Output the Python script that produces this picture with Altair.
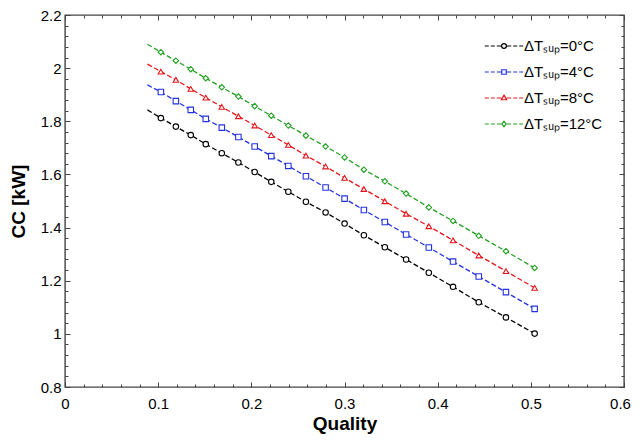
import altair as alt
import pandas as pd

# ---- data ----
quality = [0.0885, 0.1029, 0.1190, 0.1350, 0.1511, 0.1683, 0.1861, 0.2036, 0.2214, 0.2397,
           0.2586, 0.2797, 0.3001, 0.3208, 0.3433, 0.3661, 0.3905, 0.4165, 0.4441, 0.4733, 0.5041]
has_marker = [False] + [True] * 20

cc_sup0 = [1.843, 1.812, 1.780, 1.748, 1.714, 1.680, 1.645, 1.609, 1.572, 1.535, 1.497,
           1.457, 1.415, 1.371, 1.326, 1.280, 1.230, 1.177, 1.119, 1.062, 1.001]
cc_sup4 = [1.937, 1.910, 1.876, 1.843, 1.809, 1.776, 1.741, 1.705, 1.669, 1.632, 1.593,
           1.551, 1.509, 1.466, 1.421, 1.374, 1.325, 1.272, 1.216, 1.157, 1.094]
cc_sup8 = [2.015, 1.987, 1.956, 1.922, 1.889, 1.854, 1.819, 1.784, 1.748, 1.711, 1.671,
           1.630, 1.587, 1.545, 1.499, 1.452, 1.405, 1.352, 1.295, 1.236, 1.173]
cc_sup12 = [2.090, 2.060, 2.028, 1.996, 1.962, 1.928, 1.893, 1.857, 1.821, 1.784, 1.746,
            1.705, 1.664, 1.618, 1.574, 1.528, 1.476, 1.425, 1.369, 1.311, 1.248]

series_labels = ["ΔTₛᵤₚ=0°C", "ΔTₛᵤₚ=4°C", "ΔTₛᵤₚ=8°C", "ΔTₛᵤₚ=12°C"]
series_values = [cc_sup0, cc_sup4, cc_sup8, cc_sup12]

x_major = [0, 0.1, 0.2, 0.3, 0.4, 0.5, 0.6]
y_major = [0.8, 1.0, 1.2, 1.4, 1.6, 1.8, 2.0, 2.2]

# ---- styles ----
colors = ["#000000", "#2233dd", "#e4161b", "#22a022"]
marker_shapes = ["circle", "square", "triangle-up", "diamond"]
dashes = "M-2.4,0L-1.9,0M-1.65,0L-1.15,0M-0.9,0L-0.32,0M0.32,0L0.9,0M1.15,0L1.65,0M1.9,0L2.4,0"
legend_paths = [
    dashes + "M0.3,0A0.3,0.3 0 1,1 -0.3,0A0.3,0.3 0 1,1 0.3,0Z",
    dashes + "M-0.28,-0.28L0.28,-0.28L0.28,0.28L-0.28,0.28Z",
    dashes + "M0,-0.36L0.33,0.22L-0.33,0.22Z",
    dashes + "M0,-0.34L0.26,0L0,0.34L-0.26,0Z",
]

x_minor = [round(i * 0.02, 2) for i in range(31) if i % 5]
y_minor = [round(0.8 + i * 0.04, 2) for i in range(36) if i % 5]

rows = []
for name, vals in zip(series_labels, series_values):
    for q, v, m in zip(quality, vals, has_marker):
        rows.append({"Quality": q, "CC": v, "series": name, "marker": m})
df = pd.DataFrame(rows)

xs = alt.Scale(domain=[0, 0.6], nice=False, zero=False)
ys = alt.Scale(domain=[0.8, 2.2], nice=False, zero=False)
cs = alt.Scale(domain=series_labels, range=colors)


def axis(orient, values, size, labels, title=None, pad=0, tpad=0, **extra):
    # inward ticks: pull the axis into the plot by its tick length
    kw = dict(orient=orient, values=values, tickSize=size, offset=-size,
              labels=labels, domain=False, grid=False, title=title,
              tickColor="#444", tickWidth=1)
    if labels:
        kw.update(format="~g", labelPadding=pad, titlePadding=tpad, labelFlush=False)
    kw.update(extra)
    return alt.Axis(**kw)


leg = alt.Legend(title=None, orient="none", legendX=430, legendY=22, symbolSize=256,
                 symbolStrokeWidth=1.2, symbolOpacity=1, labelFont="Liberation Sans",
                 labelFontSize=15, labelOffset=11, rowPadding=9, labelColor="black",
                 padding=0)

base = alt.Chart(df)

line = base.mark_line(strokeDash=[5, 2.5], strokeWidth=1.3).encode(
    x=alt.X("Quality:Q", scale=xs,
            axis=axis("bottom", x_major, 5, True, "Quality", 9, 3,
                      labelOffset={"condition": {"test": "datum.value > 0.59", "value": -4},
                                   "value": 0})),
    y=alt.Y("CC:Q", scale=ys, axis=axis("left", y_major, 5, True, "CC [kW]", 4, 12)),
    color=alt.Color("series:N", scale=cs, legend=None),
)

points = base.transform_filter("datum.marker").mark_point(
    filled=False, fill="white", size=30, strokeWidth=1.1, opacity=1
).encode(
    x=alt.X("Quality:Q", scale=xs, axis=axis("bottom", x_minor, 3, False)),
    y=alt.Y("CC:Q", scale=ys, axis=axis("left", y_minor, 3, False)),
    color=alt.Color("series:N", scale=cs, legend=None),
    shape=alt.Shape("series:N", scale=alt.Scale(domain=series_labels, range=marker_shapes), legend=None),
)

legend_layer = base.transform_filter("datum.marker").mark_point(
    filled=False, size=30, opacity=0
).encode(
    x=alt.X("Quality:Q", scale=xs, axis=axis("top", x_major, 5, False)),
    y=alt.Y("CC:Q", scale=ys, axis=axis("right", y_major, 5, False)),
    color=alt.Color("series:N", scale=cs, legend=leg),
    shape=alt.Shape("series:N", scale=alt.Scale(domain=series_labels, range=legend_paths), legend=leg),
)

minor_layer = base.mark_point(opacity=0).encode(
    x=alt.X("Quality:Q", scale=xs, axis=axis("top", x_minor, 3, False)),
    y=alt.Y("CC:Q", scale=ys, axis=axis("right", y_minor, 3, False)),
)

chart = alt.layer(line, points, legend_layer, minor_layer).resolve_scale(
    color="independent", shape="independent"
).resolve_axis(
    x="independent", y="independent"
).properties(
    width=559, height=372,
    padding={"left": 57, "top": 7, "right": 8, "bottom": 49},
    autosize=alt.AutoSizeParams(type="none"),
).configure_view(
    stroke="#444", strokeWidth=1.4
).configure_axis(
    labelFont="Liberation Sans", labelFontSize=15, labelColor="black",
    titleFont="Liberation Sans", titleFontSize=19, titleFontWeight="bold", titleColor="black",
)

chart.save("out.html", embed_options={"renderer": "svg", "actions": False})
